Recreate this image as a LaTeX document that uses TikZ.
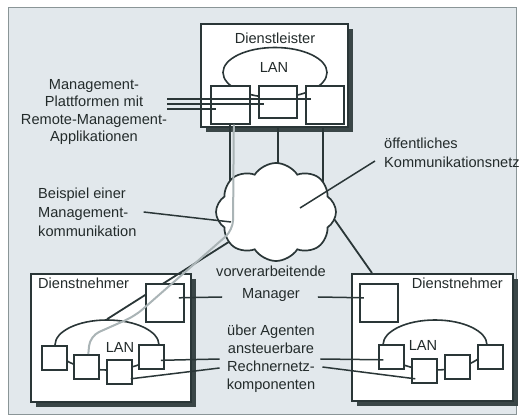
\documentclass[tikz,border=0pt]{standalone}
\usepackage{fontspec}
\setmainfont{Liberation Sans}
\usetikzlibrary{shapes.geometric,shapes.symbols,shadows}
\definecolor{linie}{HTML}{2A3637}
\definecolor{schatten}{HTML}{3A4647}
\definecolor{grund}{HTML}{E2E8EC}
\definecolor{rand}{HTML}{8A9597}
\definecolor{grau}{HTML}{AAB4B6}
\definecolor{schrift}{HTML}{232B2B}
\begin{document}
\begin{tikzpicture}[x=1pt,y=-1pt,
	every node/.style={inner sep=0pt,text=schrift,font=\fontsize{14.6}{18}\selectfont},
	system/.style={draw=linie,fill=white,line width=1.8pt,anchor=north west,
		drop shadow={shadow xshift=5pt,shadow yshift=-5pt,fill=schatten,opacity=1}},
	rechner/.style={draw=linie,fill=white,line width=1.6pt,anchor=north west},
	lan/.style={ellipse,draw=linie,line width=1.6pt,minimum width=104pt,minimum height=50pt},
	verbindung/.style={draw=linie,line width=1.8pt},
	zeiger/.style={draw=linie,line width=1.5pt},
	mgmt/.style={draw=grau,line width=2pt,rounded corners=10pt},
	wolke/.style={cloud,cloud puffs=8,cloud puff arc=115,draw=linie,fill=white,line width=1.7pt,
		minimum width=120pt,minimum height=98pt}]
\useasboundingbox (0,0) rectangle (523,417);
\fill[white] (0,0) rectangle (523,417);
\draw[rand,fill=grund,line width=1pt] (8,8) rectangle (516,414);

\node[system,minimum width=147pt,minimum height=103pt] (dl) at (200,23) {};
\node at (275,38) {Dienstleister};
\node[lan] (lanO) at (275,72.5) {};
\node at (274,67) {LAN};
\node[rechner,minimum width=39pt,minimum height=38pt] (p1) at (210,85) {};
\node[rechner,minimum width=38pt,minimum height=32pt] (p2) at (258,85) {};
\node[rechner,minimum width=38pt,minimum height=38pt] (p3) at (305,85) {};

\node[system,minimum width=160pt,minimum height=128pt] (dnL) at (30,273) {};
\node[anchor=west] at (38,283) {Dienstnehmer};
\node[lan] (lanL) at (107,345) {};
\node at (120,347) {LAN};
\node[system,minimum width=161pt,minimum height=127pt] (dnR) at (351,273) {};
\node[anchor=east] at (503,283) {Dienstnehmer};
\node[lan] (lanR) at (435,345) {};
\node at (423,345) {LAN};

\coordinate (netzmitte) at (276,212);
\coordinate (netzrechts) at (325,206);
\draw[verbindung] (p1.south) -- (p1.south |- netzmitte);
\draw[verbindung] (p2.south |- dl.south) -- (p2.south |- netzmitte);
\draw[verbindung] ([xshift=-2pt]p3.south |- dl.south) -- ([xshift=-2pt]p3.south |- netzmitte);
\draw[verbindung] (netzmitte) -- (lanL.north);
\draw[verbindung] (netzrechts) -- ([xshift=21pt]dnR.north west);
\node[wolke] (netz) at (netzmitte) {};

\node[rechner,minimum size=38pt] (mL) at (145,283) {};
\node[rechner,minimum size=38pt] (mR) at (359,283) {};
\foreach \name/\pos in {kL1/{41,345},kL2/{73,354},kL3/{106,359},kL4/{138,344},
	kR1/{378,344},kR2/{411,358},kR3/{444,354},kR4/{477,344}}
	\node[rechner,minimum width=25pt,minimum height=24pt] (\name) at (\pos) {};

\draw[mgmt] ([xshift=3.5pt]p1.south) -- (233,230) -- (135,316) -- (90,336) -- ([xshift=2pt]kL2.north);

\node[align=center,font=\fontsize{14.6}{17.3}\selectfont] (plattform) at (94,112)
	{Management-\\Plattformen mit\\Remote-Management-\\Applikationen};
\foreach \ziel/\dy in {p3/-5,p2/0,p1/5}
	\draw[verbindung] (plattform.east |- 0,104+\dy) -- ([xshift=6pt]\ziel.west |- 0,104+\dy);

\node[align=left,anchor=west,font=\fontsize{14.6}{19}\selectfont] (beispiel) at (38,212)
	{Beispiel einer\\Management-\\kommunikation};
\coordinate (pfad) at (231,222);
\draw[zeiger] ([xshift=7pt]beispiel.east) -- (pfad);

\node[align=left,anchor=west,font=\fontsize{14.6}{19}\selectfont] (oeff) at (384,152.5)
	{öffentliches\\Kommunikationsnetz};
\coordinate (netzinnen) at (300,208);
\draw[zeiger] ([xshift=-9pt,yshift=-8.5pt]oeff.west) -- (netzinnen);

\node[align=center,font=\fontsize{14.6}{22}\selectfont] (vorv) at (271,284)
	{vorverarbeitende\\Manager};
\draw[zeiger] ([xshift=14pt,yshift=5pt]mL.center) -- ([xshift=6pt,yshift=-13pt]vorv.west);
\draw[zeiger] ([xshift=-8pt,yshift=-13pt]vorv.east) -- ([xshift=-15pt,yshift=5pt]mR.center);

\node[align=center] (agent) at (271,359)
	{über Agenten\\ansteuerbare\\Rechnernetz-\\komponenten};
\draw[zeiger] ([xshift=9.5pt,yshift=-3.5pt]kL4.center) -- ([xshift=-7pt]agent.west);
\draw[zeiger] ([xshift=11.5pt,yshift=-7pt]kL3.center) -- ([xshift=-7pt,yshift=-9pt]agent.west);
\draw[zeiger] ([xshift=5pt]agent.east) -- ([xshift=-8pt,yshift=-3pt]kR1.center);
\draw[zeiger] ([xshift=7pt,yshift=-8pt]agent.east) -- ([xshift=-9pt,yshift=-8pt]kR2.center);
\end{tikzpicture}
\end{document}
